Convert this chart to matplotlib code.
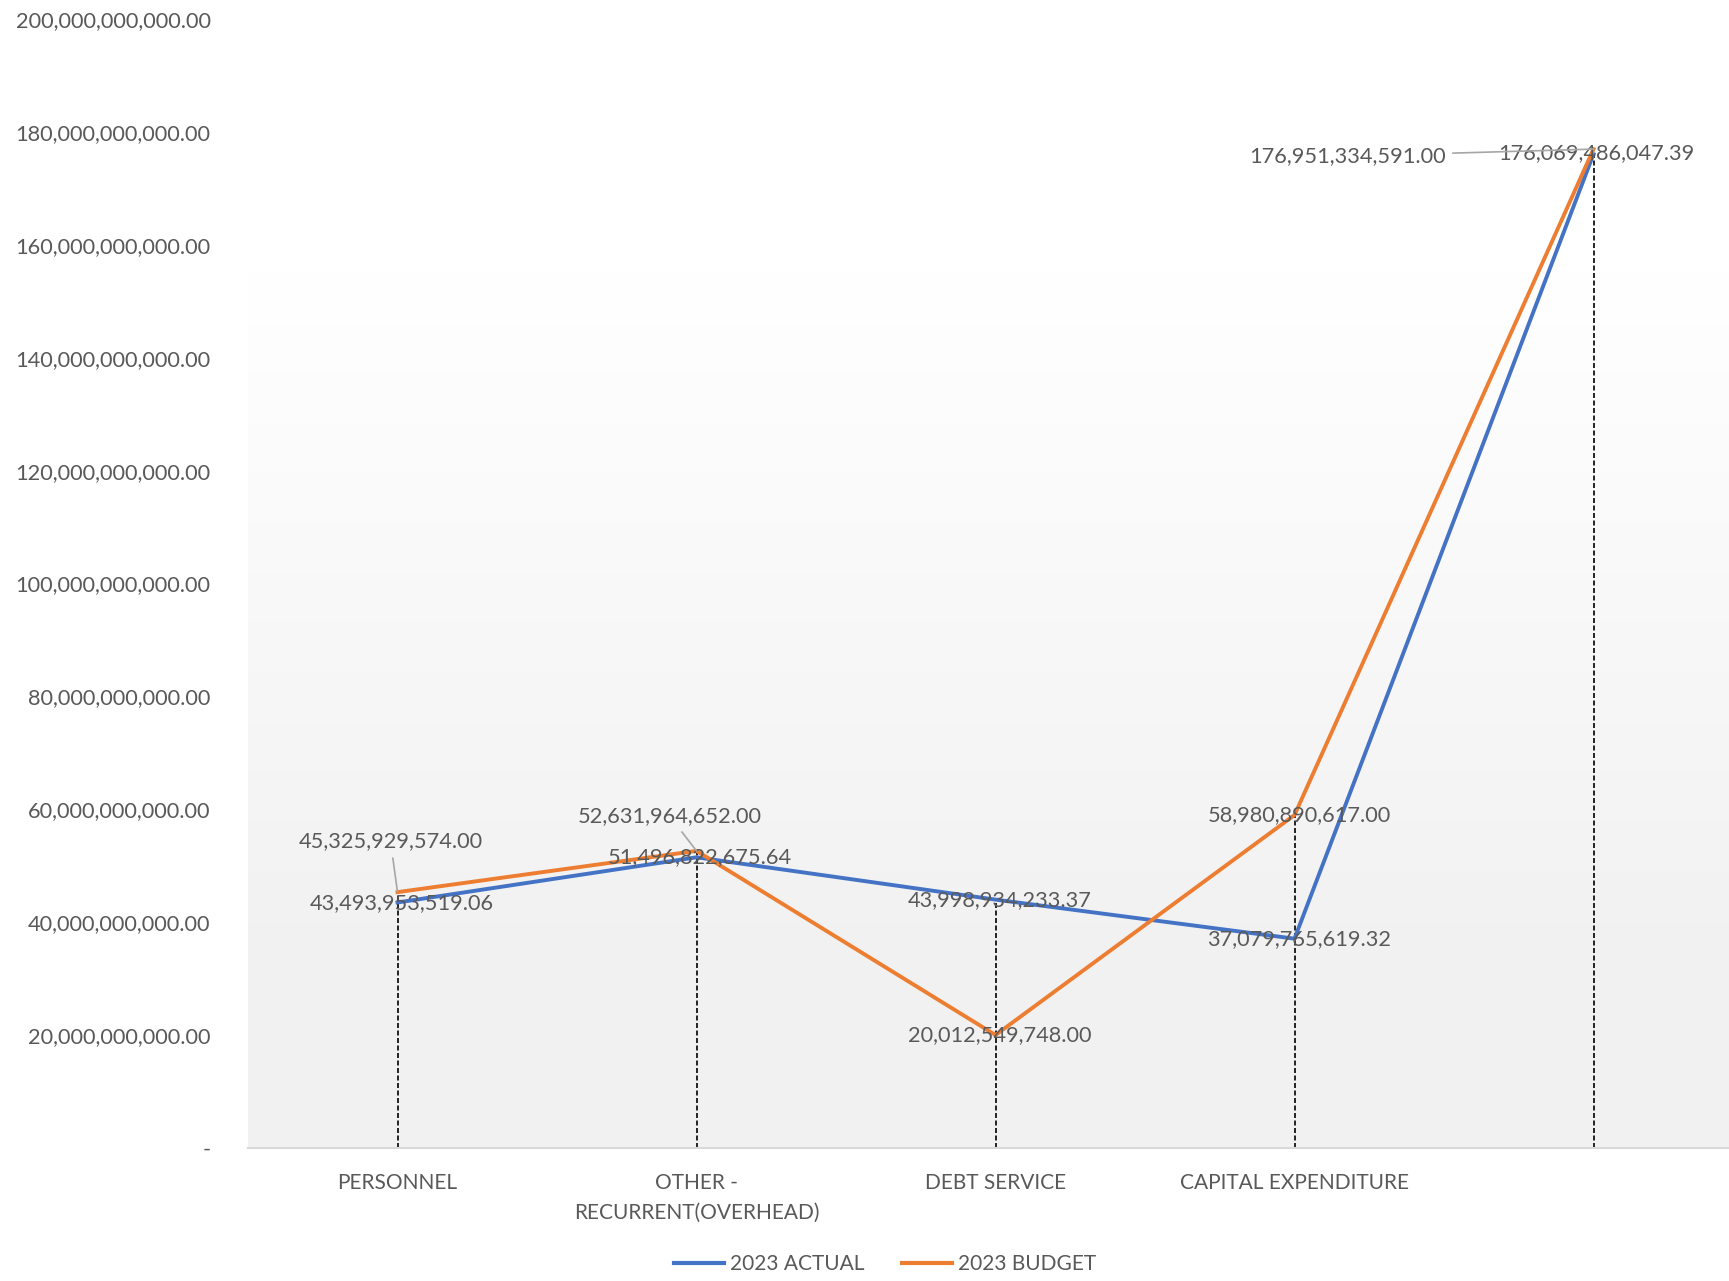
import matplotlib
matplotlib.use("Agg")
import matplotlib.pyplot as plt
import numpy as np
from matplotlib.ticker import FuncFormatter
from matplotlib.lines import Line2D

categories = ["PERSONNEL", "OTHER -\nRECURRENT(OVERHEAD)", "DEBT SERVICE", "CAPITAL EXPENDITURE", ""]
actual_2023 = [43493953519.06, 51496822675.64, 43998934233.37, 37079765619.32, 176069486047.39]
budget_2023 = [45325929574.00, 52631964652.00, 20012549748.00, 58980890617.00, 176951334591.00]
series_names = ["2023 ACTUAL", "2023 BUDGET"]
yticks = np.arange(0, 200e9 + 1, 20e9)

BLUE = "#4472C4"
ORANGE = "#ED7D31"
TXT = "#595959"
plt.rcParams['font.family'] = ['Lato', 'DejaVu Sans']

W, H = 1729, 1281
fig = plt.figure(figsize=(W / 100, H / 100), dpi=100)
left = 248 / W
bottom = 1 - 1148 / H
ax = fig.add_axes([left, bottom, 1495 / W, (1148 - 19) / H])

x = np.arange(len(categories))
ax.set_xlim(-0.5, len(categories) - 0.5)
ax.set_ylim(0, 200e9)

# gradient background
ys = np.linspace(0, 200e9, 400)
t = np.clip((ys - 40e9) / (155e9 - 40e9), 0, 1)
g = 0.949 + (1 - 0.949) * t
img = np.repeat(g[:, None], 2, axis=1)
img = np.dstack([img, img, img])
ax.imshow(img, extent=[-0.5, len(categories) - 0.5, 0, 200e9], origin='lower',
          aspect='auto', zorder=0, interpolation='bilinear')

# drop lines
for xi, a, b in zip(x, actual_2023, budget_2023):
    ax.plot([xi, xi], [0, max(a, b)], color='black', lw=1.2, ls=(0, (3, 1.5)), zorder=1)

ax.plot(x, actual_2023, color=BLUE, lw=2.8, zorder=3, solid_joinstyle='round')
ax.plot(x, budget_2023, color=ORANGE, lw=2.8, zorder=3, solid_joinstyle='round')

def fmt(v):
    return f"{v:,.2f}"

fs = 15.7
act_off = [(4, -1), (3, 0), (4, 0), (5, 0), (3, 1)]
bud_off = [(-7, 51), (-27, 35), (4, 0), (5, 0), (-246, -7)]
leader = [True, True, False, False, True]

for i in range(len(categories)):
    ax.annotate(fmt(actual_2023[i]), (x[i], actual_2023[i]), xytext=(act_off[i][0] * 0.72, act_off[i][1] * 0.72),
                textcoords='offset points', ha='center', va='center', fontsize=fs, color=TXT, zorder=5)
    kw = {}
    if leader[i]:
        kw['arrowprops'] = dict(arrowstyle='-', color='#a6a6a6', lw=1.2, shrinkA=3, shrinkB=0)
    ax.annotate(fmt(budget_2023[i]), (x[i], budget_2023[i]),
                xytext=(bud_off[i][0] * 0.72, bud_off[i][1] * 0.72),
                textcoords='offset points', ha='center', va='center', fontsize=fs, color=TXT, zorder=5, **kw)

ax.set_yticks(yticks)
ax.yaxis.set_major_formatter(FuncFormatter(lambda v, p: "-" if v == 0 else f"{v:,.2f}"))
ax.set_xticks(x)
ax.set_xticklabels(categories, fontsize=15, color=TXT, linespacing=1.6)
ax.tick_params(axis='y', length=0, pad=27, labelsize=fs, labelcolor=TXT)
ax.tick_params(axis='x', length=0, pad=18)
for s in ['top', 'right', 'left']:
    ax.spines[s].set_visible(False)
ax.spines['bottom'].set_color('#d9d9d9')
ax.spines['bottom'].set_linewidth(1.5)

handles = [Line2D([], [], color=BLUE, lw=3), Line2D([], [], color=ORANGE, lw=3)]
fig.legend(handles, series_names, loc='center', bbox_to_anchor=(885 / W, 1 - 1264 / H), ncol=2,
           frameon=False, fontsize=15, labelcolor=TXT, handlelength=2.4, handletextpad=0.3,
           columnspacing=1.8)

fig.savefig("out.png", dpi=100, facecolor='white')
